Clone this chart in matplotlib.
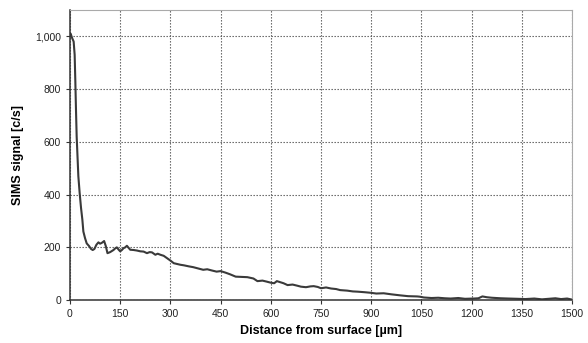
import numpy as np
import matplotlib.pyplot as plt
from matplotlib.ticker import FuncFormatter

plt.rcParams['font.family'] = ['Liberation Sans', 'DejaVu Sans']

# depth profile (rows of 10 points)
distance = [0, 2, 6, 11, 14, 16, 18, 20, 22, 25,
            29, 33, 37, 40, 45, 50, 57, 63, 68, 73,
            79, 85, 90, 95, 102, 107, 112, 120, 130, 135,
            140, 145, 150, 155, 160, 165, 170, 180, 190, 200,
            210, 220, 230, 238, 245, 255, 262, 270, 280, 290,
            300, 310, 320, 330, 340, 355, 368, 383, 398, 410,
            425, 438, 450, 465, 478, 495, 513, 530, 548, 560,
            575, 588, 600, 610, 618, 628, 638, 650, 665, 678,
            690, 705, 718, 728, 740, 750, 765, 780, 795, 807,
            828, 845, 860, 880, 897, 915, 937, 960, 987, 1010,
            1037, 1045, 1057, 1080, 1100, 1120, 1137, 1160, 1180, 1207,
            1220, 1232, 1245, 1260, 1287, 1310, 1337, 1360, 1387, 1410,
            1430, 1450, 1467, 1485, 1500]
signal = [1000, 1010, 995, 980, 930, 830, 720, 620, 560, 470,
          405, 350, 305, 260, 235, 215, 205, 194, 190, 194,
          210, 219, 214, 217, 224, 205, 178, 182, 190, 196,
          200, 192, 185, 190, 197, 200, 206, 191, 190, 188,
          185, 184, 178, 182, 181, 172, 176, 172, 168, 159,
          150, 140, 137, 134, 132, 128, 125, 120, 115, 117,
          112, 108, 110, 104, 98, 89, 88, 87, 82, 72,
          74, 70, 66, 64, 72, 68, 64, 57, 59, 55,
          51, 49, 52, 53, 50, 45, 48, 44, 42, 38,
          36, 33, 32, 30, 28, 25, 26, 22, 18, 15,
          14, 13, 10, 8, 9, 7, 6, 8, 5, 6,
          7, 14, 11, 9, 7, 6, 5, 4, 6, 3,
          5, 7, 4, 6, 2]

x_ticks = np.arange(0, 1501, 150)
y_ticks = np.arange(0, 1001, 200)

fig, ax = plt.subplots(figsize=(5.88, 3.43), dpi=100)
fig.subplots_adjust(left=0.119, right=0.973, bottom=0.125, top=0.971)

ax.plot(distance, signal, color='#3a3a3a', lw=1.5)

ax.set_xlim(0, 1500)
ax.set_ylim(0, 1100)
ax.set_xticks(x_ticks)
ax.set_yticks(y_ticks)
ax.yaxis.set_major_formatter(FuncFormatter(lambda v, p: f"{int(v):,}"))
ax.grid(True, linestyle=(0, (1.2, 1.5)), color='#555555', lw=0.8)
ax.tick_params(labelsize=7.5, length=3, color='#333333', labelcolor='#222222')

for s in ['top', 'right']:
    ax.spines[s].set_color('#aaaaaa')
for s in ['left', 'bottom']:
    ax.spines[s].set_color('#333333')
    ax.spines[s].set_linewidth(1.1)

ax.set_xlabel("Distance from surface [µm]", fontsize=9, fontweight='bold', labelpad=4)
ax.set_ylabel("SIMS signal [c/s]", fontsize=9, fontweight='bold', labelpad=8)

fig.savefig("out.png")
